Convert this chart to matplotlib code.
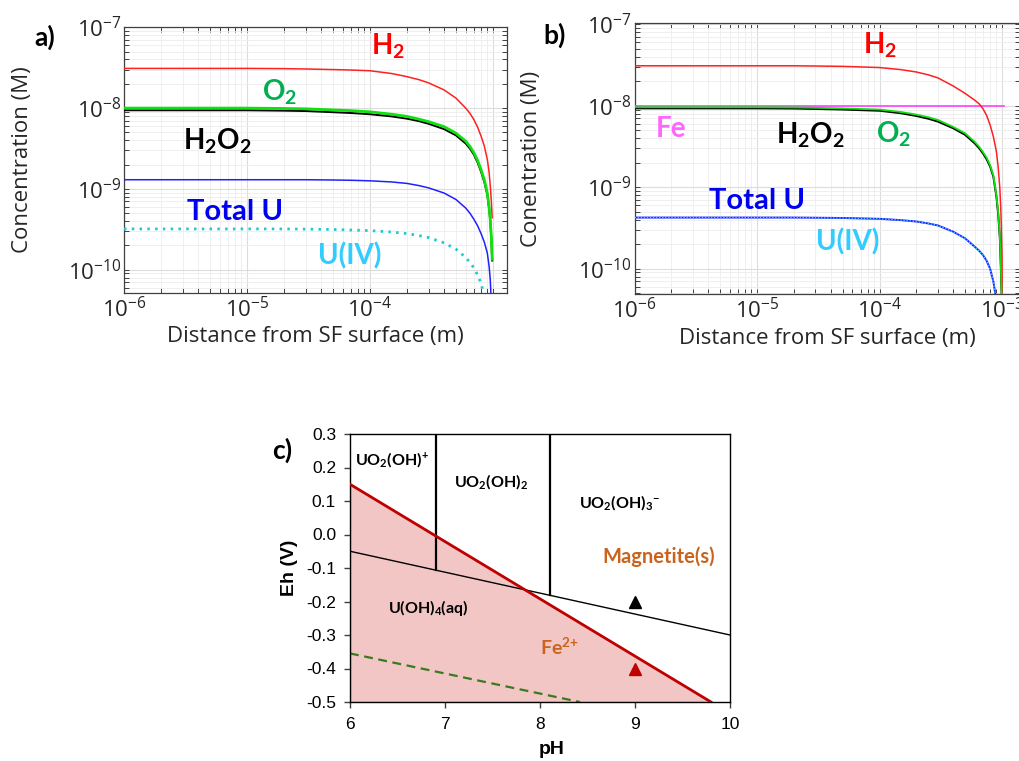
import numpy as np
import matplotlib
matplotlib.use("Agg")
import matplotlib.pyplot as plt
from matplotlib.ticker import LogLocator, NullFormatter

plt.rcParams['font.family'] = ['Open Sans', 'DejaVu Sans']
plt.rcParams['mathtext.fontset'] = 'custom'
plt.rcParams['mathtext.rm'] = 'Lato'
plt.rcParams['mathtext.it'] = 'Lato:italic'
plt.rcParams['mathtext.bf'] = 'Lato:bold'

# ---------------- panel a: concentration profiles (no Fe) ----------------
dist_a = [1e-6, 1e-5, 2e-5, 3e-5, 5e-5, 7e-5, 1e-4, 1.5e-4, 2e-4, 2.5e-4, 3e-4, 4e-4,
          5e-4, 6e-4, 6.5e-4, 7e-4, 7.5e-4, 8e-4, 8.5e-4, 9e-4, 9.3e-4, 9.5e-4,
          9.7e-4, 9.85e-4]
h2_a = [3.1e-8, 3.1e-8, 3.08e-8, 3.05e-8, 3.0e-8, 2.96e-8, 2.9e-8, 2.68e-8, 2.45e-8,
        2.25e-8, 2.05e-8, 1.68e-8, 1.33e-8, 1.0e-8, 8.6e-9, 7.2e-9, 5.8e-9, 4.5e-9,
        3.4e-9, 2.3e-9, 1.6e-9, 1.1e-9, 7.0e-10, 4.4e-10]
o2_a = [1.0e-8, 1.0e-8, 9.9e-9, 9.8e-9, 9.5e-9, 9.3e-9, 9.0e-9, 8.4e-9, 7.9e-9,
        7.3e-9, 6.8e-9, 5.9e-9, 4.9e-9, 3.9e-9, 3.35e-9, 2.8e-9, 2.25e-9, 1.73e-9,
        1.3e-9, 8.9e-10, 6.0e-10, 4.2e-10, 2.5e-10, 1.35e-10]
h2o2_a = [9.4e-9, 9.4e-9, 9.3e-9, 9.2e-9, 8.9e-9, 8.7e-9, 8.4e-9, 7.9e-9, 7.4e-9,
          6.9e-9, 6.4e-9, 5.5e-9, 4.6e-9, 3.65e-9, 3.15e-9, 2.65e-9, 2.12e-9, 1.63e-9,
          1.22e-9, 8.4e-10, 5.7e-10, 4.0e-10, 2.4e-10, 1.3e-10]
dist_u_a = [1e-6, 1e-5, 2e-5, 3e-5, 5e-5, 7e-5, 1e-4, 1.5e-4, 2e-4, 2.5e-4, 3e-4, 4e-4,
            5e-4, 6e-4, 6.5e-4, 7e-4, 7.5e-4, 8e-4, 8.5e-4, 9e-4, 9.3e-4, 9.5e-4, 9.65e-4]
utot_a = [1.3e-9, 1.3e-9, 1.3e-9, 1.3e-9, 1.29e-9, 1.28e-9, 1.26e-9, 1.22e-9, 1.17e-9,
          1.1e-9, 1.03e-9, 8.9e-10, 7.4e-10, 5.8e-10, 5.0e-10, 4.2e-10, 3.5e-10, 2.8e-10,
          2.2e-10, 1.6e-10, 1.1e-10, 7.6e-11, 4.5e-11]
dist_u4_a = [1e-6, 1e-5, 2e-5, 3e-5, 5e-5, 7e-5, 1e-4, 1.5e-4, 2e-4, 2.5e-4, 3e-4, 4e-4,
             5e-4, 6e-4, 6.5e-4, 7e-4, 7.5e-4, 8e-4, 8.4e-4]
u4_a = [3.2e-10, 3.2e-10, 3.2e-10, 3.18e-10, 3.15e-10, 3.1e-10, 3.05e-10, 2.93e-10,
        2.8e-10, 2.65e-10, 2.5e-10, 2.15e-10, 1.8e-10, 1.42e-10, 1.23e-10, 1.05e-10,
        8.6e-11, 6.8e-11, 5.0e-11]

# ---------------- panel b: concentration profiles with Fe ----------------
dist_b = [1e-6, 1e-5, 2e-5, 3e-5, 5e-5, 7e-5, 1e-4, 1.5e-4, 2e-4, 2.5e-4, 3e-4, 4e-4,
          5e-4, 6e-4, 6.5e-4, 7e-4, 7.5e-4, 8e-4, 8.5e-4, 9e-4, 9.3e-4, 9.6e-4,
          9.8e-4, 1.0e-3, 1.005e-3]
h2_b = [3.1e-8, 3.1e-8, 3.1e-8, 3.08e-8, 3.05e-8, 3.0e-8, 2.95e-8, 2.78e-8, 2.6e-8,
        2.4e-8, 2.2e-8, 1.75e-8, 1.42e-8, 1.17e-8, 1.06e-8, 9.2e-9, 7.6e-9, 5.8e-9,
        4.2e-9, 2.75e-9, 1.8e-9, 9.8e-10, 5.0e-10, 1.5e-10, 4.5e-11]
dist_ox_b = [1e-6, 1e-5, 2e-5, 3e-5, 5e-5, 7e-5, 1e-4, 1.5e-4, 2e-4, 2.5e-4, 3e-4, 4e-4,
             5e-4, 6e-4, 6.5e-4, 7e-4, 7.5e-4, 8e-4, 8.5e-4, 9e-4, 9.3e-4, 9.6e-4,
             9.75e-4, 9.95e-4]
o2_b = [9.6e-9, 9.6e-9, 9.55e-9, 9.45e-9, 9.3e-9, 9.15e-9, 9.0e-9, 8.4e-9, 7.8e-9,
        7.25e-9, 6.7e-9, 5.5e-9, 4.6e-9, 3.6e-9, 3.15e-9, 2.7e-9, 2.3e-9, 1.87e-9,
        1.4e-9, 8.0e-10, 5.0e-10, 2.5e-10, 1.3e-10, 4.5e-11]
h2o2_b = [9.3e-9, 9.3e-9, 9.25e-9, 9.15e-9, 9.0e-9, 8.85e-9, 8.7e-9, 8.1e-9, 7.5e-9,
          6.95e-9, 6.4e-9, 5.3e-9, 4.4e-9, 3.45e-9, 3.02e-9, 2.6e-9, 2.2e-9, 1.8e-9,
          1.35e-9, 7.7e-10, 4.8e-10, 2.4e-10, 1.25e-10, 4.5e-11]
dist_u_b = [1e-6, 1e-5, 2e-5, 3e-5, 5e-5, 7e-5, 1e-4, 1.5e-4, 2e-4, 2.5e-4, 3e-4, 4e-4,
            5e-4, 6e-4, 6.5e-4, 7e-4, 7.5e-4, 8e-4, 8.5e-4, 8.9e-4]
utot_b = [4.25e-10, 4.25e-10, 4.25e-10, 4.23e-10, 4.2e-10, 4.15e-10, 4.1e-10, 3.95e-10,
          3.8e-10, 3.6e-10, 3.4e-10, 2.85e-10, 2.36e-10, 1.86e-10, 1.67e-10, 1.47e-10,
          1.25e-10, 1.0e-10, 7.0e-11, 4.5e-11]
u4_b = utot_b
dist_fe_b = [1e-6, 1.03e-3]
fe_b = [1e-8, 1e-8]

# ---------------- panel c: Eh-pH diagram ----------------
fe_ph = [6.0, 9.8]            # Fe2+/magnetite boundary
fe_eh = [0.15, -0.5]
u_ph = [6.0, 10.0]            # U(VI)/U(IV) boundary
u_eh = [-0.05, -0.30]
vert_ph = [6.9, 8.1]          # U(VI) hydrolysis boundaries
vert_eh_low = [-0.106, -0.181]
h2o_ph = [6.0, 8.42]          # water stability (dashed)
h2o_eh = [-0.355, -0.5]
cond_ph = [9.0, 9.0]
cond_eh = [-0.2, -0.4]
ph_ticks = [6, 7, 8, 9, 10]
eh_ticks = [-0.5, -0.4, -0.3, -0.2, -0.1, 0.0, 0.1, 0.2, 0.3]
eh_tick_labels = ['-0.5', '-0.4', '-0.3', '-0.2', '-0.1', '0.0', '0.1', '0.2', '0.3']

W, H = 1019, 761
fig = plt.figure(figsize=(W / 100, H / 100), dpi=100)


def px_axes(l, t, r, b):
    return fig.add_axes([l / W, 1 - b / H, (r - l) / W, (b - t) / H])


TXT = '#262626'


def style_log(ax, xmax, ymin, ymax, xlabels):
    ax.set_xscale('log')
    ax.set_yscale('log')
    ax.set_xticks([1e-6, 1e-5, 1e-4, 1e-3], labels=xlabels)
    ax.set_yticks([1e-10, 1e-9, 1e-8, 1e-7],
                  labels=[r'$\mathdefault{10^{-10}}$', r'$\mathdefault{10^{-9}}$',
                          r'$\mathdefault{10^{-8}}$', r'$\mathdefault{10^{-7}}$'])
    for axis in (ax.xaxis, ax.yaxis):
        axis.set_minor_locator(LogLocator(base=10, subs=np.arange(2, 10), numticks=30))
        axis.set_minor_formatter(NullFormatter())
    ax.set_xlim(1e-6, xmax)
    ax.set_ylim(ymin, ymax)
    ax.grid(True, which='major', color='#dcdcdc', lw=0.8)
    ax.grid(True, which='minor', color='#ededed', lw=0.6)
    ax.set_axisbelow(True)
    ax.tick_params(which='both', direction='in', top=True, right=True, length=3.5,
                   width=0.7, color='#404040', labelcolor=TXT, labelsize=16)
    ax.tick_params(axis='x', pad=3)
    ax.tick_params(axis='y', pad=2)
    for s in ax.spines.values():
        s.set_color('#404040')
        s.set_linewidth(0.9)


xl = [r'$\mathdefault{10^{-6}}$', r'$\mathdefault{10^{-5}}$',
      r'$\mathdefault{10^{-4}}$', r'$\mathdefault{10^{-3}}$']

# ---- panel a ----
axa = px_axes(124, 27.3, 507, 292.7)
style_log(axa, 1.3e-3, 5.2e-11, 1e-7, xl[:3] + [''])
axa.plot(dist_a, h2_a, color='#ff2020', lw=1.1, zorder=3)
axa.plot(dist_a, h2o2_a, color='black', lw=1.4, zorder=3)
axa.plot(dist_a, o2_a, color='#10e010', lw=2.0, zorder=4)
axa.plot(dist_u_a, utot_a, color='#2020ff', lw=1.1, zorder=3)
axa.plot(dist_u4_a, u4_a, color='#20c8d0', lw=2.0, ls=(0, (0.9, 1.9)), zorder=3)
axa.set_xlabel('Distance from SF surface (m)', fontsize=16, color=TXT)
axa.set_ylabel('Concentration (M)', fontsize=16, color=TXT)
axa.yaxis.set_label_coords(-0.238, 0.5)
axa.xaxis.set_label_coords(0.5, -0.125)

lab = dict(fontsize=20, ha='center', va='baseline')
axa.text(1.4e-4, 4.55e-8, r'$\mathbf{H_2}$', color='#ff0000', **lab)
axa.text(1.85e-5, 1.26e-8, r'$\mathbf{O_2}$', color='#00b050', **lab)
axa.text(5.7e-6, 3.05e-9, r'$\mathbf{H_2O_2}$', color='black', **lab)
axa.text(8.0e-6, 4.18e-10, 'Total U', color='#0000f0', fontsize=21,
         fontfamily='Lato', fontweight='bold', ha='center', va='baseline')
axa.text(6.9e-5, 1.16e-10, 'U(IV)', color='#33ccff', fontsize=20,
         fontfamily='Lato', fontweight='bold', ha='center', va='baseline')

# ---- panel b ----
axb = px_axes(634.6, 23.3, 1019.5, 294)
style_log(axb, 1.39e-3, 4.9e-11, 1.03e-7, xl)
axb.plot(dist_fe_b, fe_b, color='#ff40ff', lw=1.2, zorder=3)
axb.plot(dist_b, h2_b, color='#ff2020', lw=1.1, zorder=4)
axb.plot(dist_ox_b, h2o2_b, color='black', lw=1.4, zorder=3)
axb.plot(dist_ox_b, o2_b, color='#10e010', lw=1.3, zorder=4)
axb.plot(dist_u_b, utot_b, color='#2020ff', lw=1.4, zorder=3)
axb.plot(dist_u_b, u4_b, color='#40c8ff', lw=1.0, ls=(0, (1, 1.2)), zorder=4)
axb.set_xlabel('Distance from SF surface (m)', fontsize=16, color=TXT)
axb.set_ylabel('Conentration (M)', fontsize=16, color=TXT)
axb.yaxis.set_label_coords(-0.241, 0.5)
axb.xaxis.set_label_coords(0.5, -0.125)

axb.text(1.01e-4, 4.4e-8, r'$\mathbf{H_2}$', color='#ff0000', **lab)
axb.text(1.98e-6, 4.1e-9, 'Fe', color='#ff66ff', fontsize=20,
         fontfamily='Lato', fontweight='bold', ha='center', va='baseline')
axb.text(2.72e-5, 3.46e-9, r'$\mathbf{H_2O_2}$', color='black', **lab)
axb.text(1.3e-4, 3.5e-9, r'$\mathbf{O_2}$', color='#00b050', **lab)
axb.text(1.0e-5, 5.36e-10, 'Total U', color='#0000f0', fontsize=21,
         fontfamily='Lato', fontweight='bold', ha='center', va='baseline')
axb.text(5.46e-5, 1.7e-10, 'U(IV)', color='#33ccff', fontsize=20,
         fontfamily='Lato', fontweight='bold', ha='center', va='baseline')

# ---- panel c ----
axc = px_axes(350, 434, 730, 702)
axc.set_xlim(6, 10)
axc.set_ylim(-0.5, 0.3)
axc.fill_between(fe_ph, fe_eh, -0.5, facecolor='#f3c6c6', edgecolor='#e69a9a',
                 lw=1.2, zorder=1)
axc.plot(h2o_ph, h2o_eh, color='#3a7a1e', lw=1.6, ls=(0, (4, 2.5)), zorder=2)
axc.plot(u_ph, u_eh, color='black', lw=1.0, zorder=3)
for p, lo in zip(vert_ph, vert_eh_low):
    axc.plot([p, p], [0.3, lo], color='black', lw=1.6, zorder=3)
axc.plot(fe_ph, fe_eh, color='#c00000', lw=2.0, zorder=4)
axc.plot(cond_ph[:1], cond_eh[:1], marker='^', color='black', ms=9, ls='none', zorder=5)
axc.plot(cond_ph[1:], cond_eh[1:], marker='^', color='#c00000', ms=9, ls='none', zorder=5)

axc.set_xticks(ph_ticks, labels=[str(v) for v in ph_ticks])
axc.set_yticks(eh_ticks, labels=eh_tick_labels)
axc.tick_params(direction='out', length=4, width=1, labelsize=12.5,
                labelfontfamily='Liberation Sans', color='#404040')
axc.tick_params(axis='x', pad=7)
axc.tick_params(axis='y', pad=6)
for s in axc.spines.values():
    s.set_color('black')
    s.set_linewidth(1.0)
axc.set_xlabel('pH', fontsize=14, fontweight='bold', fontfamily='Liberation Sans')
axc.set_ylabel('Eh (V)', fontsize=14, fontweight='bold', fontfamily='Liberation Sans')
axc.xaxis.set_label_coords(0.53, -0.145)
axc.yaxis.set_label_coords(-0.138, 0.5)

reg = dict(fontsize=11.5, ha='center', va='baseline', color='black', zorder=6)
axc.text(6.44, 0.2075, r'$\mathbf{UO_2(OH)^{+}}$', **reg)
axc.text(7.48, 0.143, r'$\mathbf{UO_2(OH)_2}$', **reg)
axc.text(8.84, 0.081, r'$\mathbf{UO_2(OH)_3{}^{-}}$', **reg)
axc.text(6.82, -0.235, r'$\mathbf{U(OH)_4(aq)}$', **reg)
axc.text(9.25, -0.084, 'Magnetite(s)', fontsize=14.5, fontfamily='Lato',
         fontweight='bold', color='#c8641e', ha='center', va='baseline', zorder=6)
axc.text(8.2, -0.36, r'$\mathbf{Fe^{2{+}}}$', fontsize=14, color='#c8641e',
         ha='center', va='baseline', zorder=6)

# panel letters
letter = dict(fontsize=19, fontweight='bold', fontfamily='Lato', ha='center', va='center')
fig.text(45 / W, 1 - 37 / H, 'a)', **letter)
fig.text(555 / W, 1 - 35 / H, 'b)', **letter)
fig.text(282 / W, 1 - 450 / H, 'c)', **letter)

fig.savefig('out.png', dpi=100)
